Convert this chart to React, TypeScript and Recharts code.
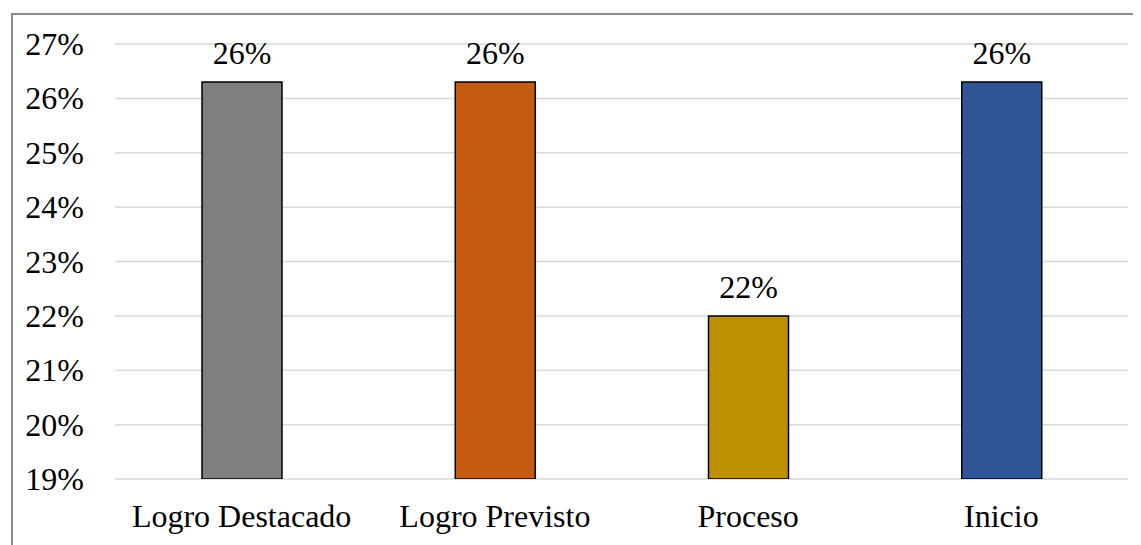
import { BarChart, Bar, XAxis, YAxis, CartesianGrid, Cell, LabelList } from "recharts";

const categories = ["Logro Destacado", "Logro Previsto", "Proceso", "Inicio"];
const values = [26.3, 26.3, 22.0, 26.3];
const barColors = ["#7f7f7f", "#c55a11", "#bf9000", "#2f5597"];
const yTicks = [19, 20, 21, 22, 23, 24, 25, 26, 27];

const data = categories.map((name, i) => ({ name, value: values[i] }));

const serif = "Times New Roman";

const XTick = (props: any) => {
  const { x, y, payload } = props;
  return (
    <text x={x} y={y} dy={23} textAnchor="middle" fontFamily={serif} fontSize={32}>
      {payload.value}
    </text>
  );
};

const YTick = (props: any) => {
  const { x, y, payload } = props;
  return (
    <text x={x} y={y} dy={11} textAnchor="end" fontFamily={serif} fontSize={32}>
      {`${payload.value}%`}
    </text>
  );
};

// etiqueta encima de cada barra
const BarLabel = (props: any) => {
  const { x, y, width, value } = props;
  return (
    <text x={Number(x) + Number(width) / 2} y={Number(y) - 18} textAnchor="middle" fontFamily={serif} fontSize={32}>
      {`${Math.round(Number(value))}%`}
    </text>
  );
};

export default function App() {
  return (
    <div style={{ position: "relative", margin: "-8px 0 0 -8px", width: 1141, height: 545, background: "#fff", overflow: "hidden" }}>
      <div
        style={{
          position: "absolute",
          left: 11,
          top: 13,
          width: 1141,
          height: 545,
          borderLeft: "2px solid #8c8c8c",
          borderTop: "2px solid #8c8c8c",
        }}
      />
      <div style={{ position: "absolute", left: 0, top: 0 }}>
        <BarChart
          width={1141}
          height={545}
          data={data}
          margin={{ top: 44, right: 13, bottom: 6, left: 0 }}
        >
          <CartesianGrid vertical={false} stroke="#d9d9d9" strokeWidth={1.5} />
          <XAxis
            dataKey="name"
            axisLine={false}
            tickLine={false}
            tickSize={0}
            tickMargin={25}
            height={60}
            interval={0}
            tick={<XTick />}
          />
          <YAxis
            type="number"
            domain={[19, 27]}
            ticks={yTicks}
            allowDataOverflow
            axisLine={false}
            tickLine={false}
            tickSize={0}
            tickMargin={31}
            width={115}
            tick={<YTick />}
          />
          <Bar dataKey="value" barSize={80} stroke="#000" strokeWidth={1.5} isAnimationActive={false}>
            {data.map((d, i) => (
              <Cell key={d.name} fill={barColors[i]} />
            ))}
            <LabelList dataKey="value" content={<BarLabel />} />
          </Bar>
        </BarChart>
      </div>
    </div>
  );
}
